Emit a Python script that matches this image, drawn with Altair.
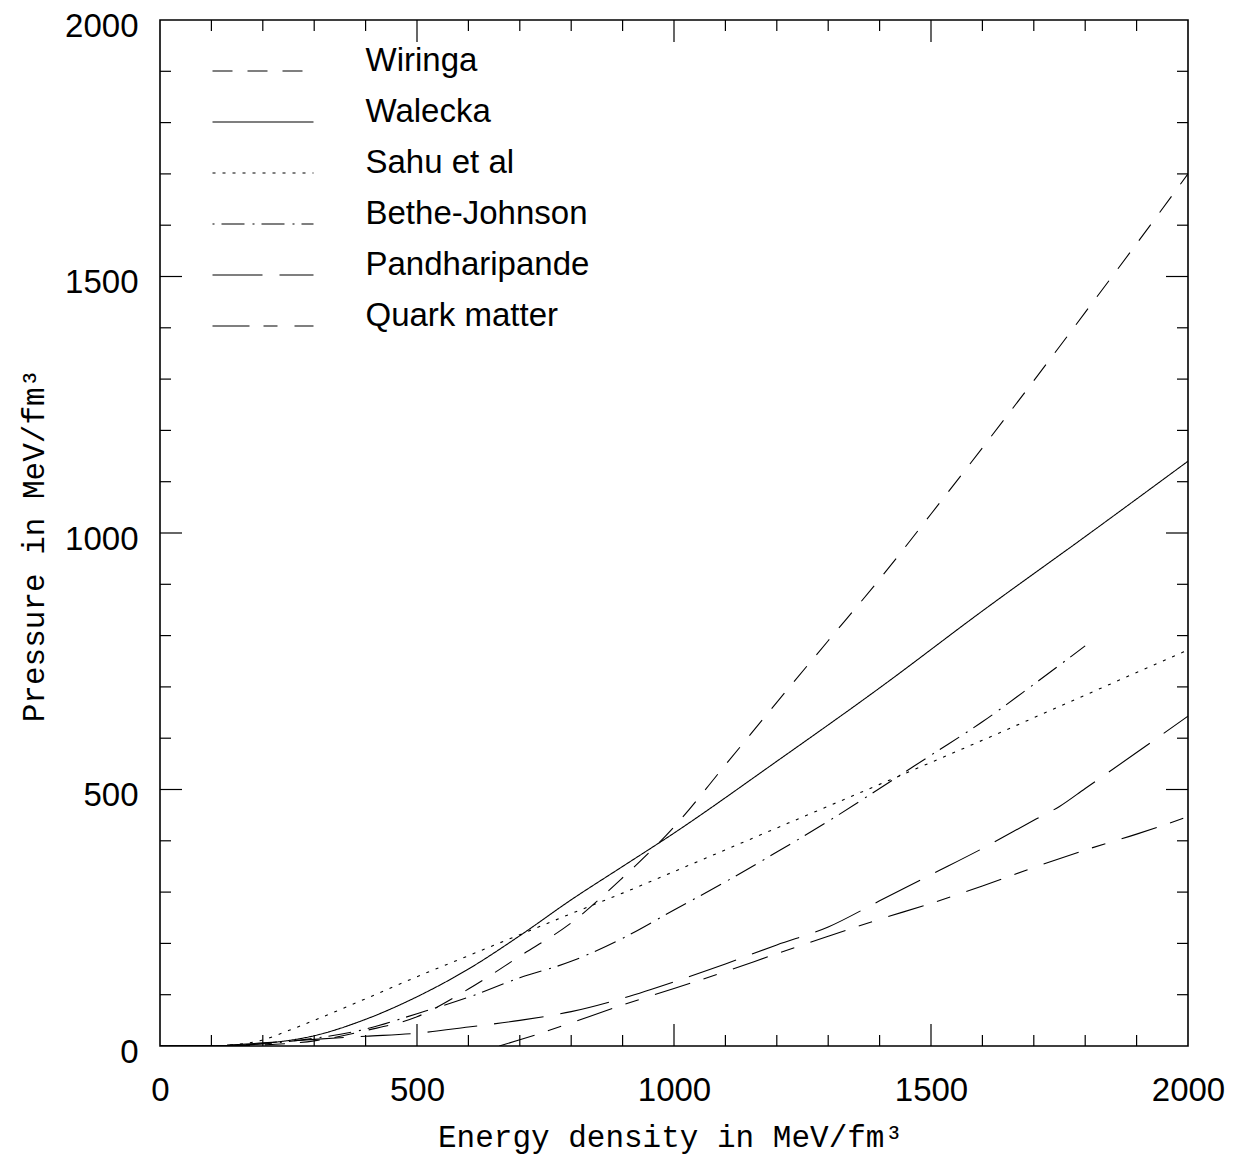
import altair as alt
import pandas as pd

# ---- data ----
series_order = ["Wiringa", "Walecka", "Sahu et al", "Bethe-Johnson", "Pandharipande", "Quark matter"]

wiringa_x = [0, 100, 200, 300, 400, 500, 600, 700, 800, 900, 1000, 1100, 1200, 1300, 1400, 1500, 1600, 1700, 1800, 1900, 2000]
wiringa_y = [0, 0, 2, 10, 30, 57, 111, 175, 240, 328, 427, 548, 670, 790, 910, 1037, 1166, 1297, 1430, 1564, 1700]

walecka_x = [0, 100, 200, 300, 400, 500, 600, 700, 800, 900, 1000, 1200, 1400, 1600, 1800, 2000]
walecka_y = [0, 0.5, 5, 20, 52, 96, 150, 215, 285, 350, 415, 555, 698, 848, 993, 1140]

sahu_x = [0, 100, 150, 200, 250, 300, 400, 500, 600, 700, 800, 900, 1000, 1200, 1400, 1600, 1800, 2000]
sahu_y = [0, 0.5, 3, 12, 30, 50, 92, 135, 176, 217, 258, 298, 340, 425, 510, 596, 684, 772]

bethe_x = [0, 100, 200, 300, 400, 500, 600, 700, 800, 900, 1000, 1100, 1200, 1300, 1400, 1500, 1600, 1700, 1800]
bethe_y = [0, 0, 4, 15, 33, 63, 95, 133, 165, 210, 265, 320, 378, 438, 502, 567, 632, 705, 780]

pandha_x = [0, 100, 200, 300, 400, 500, 600, 700, 800, 900, 1000, 1100, 1200, 1300, 1400, 1500, 1600, 1700, 1750, 1800, 1900, 2000]
pandha_y = [0, 1, 6, 13, 19, 25, 37, 50, 67, 93, 125, 160, 197, 232, 283, 334, 385, 440, 467, 502, 572, 643]

quark_x = [660, 700, 800, 900, 1000, 1100, 1200, 1300, 1400, 1500, 1600, 1700, 1800, 1900, 2000]
quark_y = [0, 12, 45, 80, 112, 145, 180, 214, 247, 278, 312, 348, 382, 413, 447]

axis_values = [0, 500, 1000, 1500, 2000]
minor_ticks = [100, 200, 300, 400, 600, 700, 800, 900, 1100, 1200, 1300, 1400, 1600, 1700, 1800, 1900]
major_ticks = [500, 1000, 1500]

# ---- build table ----
rows = []
for name, xs, ys in [
    ("Wiringa", wiringa_x, wiringa_y),
    ("Walecka", walecka_x, walecka_y),
    ("Sahu et al", sahu_x, sahu_y),
    ("Bethe-Johnson", bethe_x, bethe_y),
    ("Pandharipande", pandha_x, pandha_y),
    ("Quark matter", quark_x, quark_y),
]:
    for xv, yv in zip(xs, ys):
        rows.append({"series": name, "x": xv, "y": yv})
df = pd.DataFrame(rows)

W, H = 1028, 1026
SANS = "Liberation Sans"
MONO = "Liberation Mono"

xscale = alt.Scale(domain=[0, 2000], nice=False, zero=False)
yscale = alt.Scale(domain=[0, 2000], nice=False, zero=False)

xaxis = alt.Axis(
    title="Energy density in MeV/fm³", values=axis_values, ticks=False, domain=False, grid=False,
    labelFont=SANS, labelFontSize=33, labelColor="black", labelPadding=28, labelFlush=False,
    labelOverlap=False, format="d",
    titleFont=MONO, titleFontSize=31, titleFontWeight="normal", titleColor="black",
    titleY=100, titleX=510, titleBaseline="alphabetic", titleAlign="center",
)
yaxis = alt.Axis(
    title="Pressure in MeV/fm³", values=axis_values, ticks=False, domain=False, grid=False,
    labelFont=SANS, labelFontSize=33, labelColor="black", labelPadding=22, labelFlush=False,
    labelOverlap=False, labelOffset=6, format="d",
    titleFont=MONO, titleFontSize=31, titleFontWeight="normal", titleColor="black",
    titleAngle=270, titleX=-117, titleY=525, titleBaseline="alphabetic", titleAlign="center",
)

dash_range = [[20, 15], [1, 0], [3, 7], [2, 7, 23, 8], [50, 17], [37, 14, 14, 17]]

# legend sample: a horizontal stroke, 101 px long (path in unit coords, scaled by sqrt(size)/2)
SAMPLE_PATH = "M-4,0H4"
SAMPLE_SIZE = (101 / 4) ** 2

lines = alt.Chart(df).mark_line(color="black", strokeWidth=1.1, interpolate="monotone", clip=True).encode(
    x=alt.X("x:Q", scale=xscale, axis=xaxis),
    y=alt.Y("y:Q", scale=yscale, axis=yaxis),
    strokeDash=alt.StrokeDash(
        "series:N",
        scale=alt.Scale(domain=series_order, range=dash_range),
        sort=series_order,
        legend=alt.Legend(
            orient="none", legendX=52, legendY=34.5, title=None,
            symbolType=SAMPLE_PATH, symbolSize=SAMPLE_SIZE, symbolStrokeWidth=1.1,
            symbolStrokeColor="black", symbolFillColor="transparent",
            symbolOffset=34.5,
            labelFont=SANS, labelFontSize=33,
            labelColor="black", labelOffset=86, labelBaseline="alphabetic",
            rowPadding=17, padding=0, labelLimit=0,
        ),
    ),
    detail="series:N",
)

xt_minor = pd.DataFrame({"x": minor_ticks})
xt_major = pd.DataFrame({"x": major_ticks})
yt_minor = pd.DataFrame({"y": minor_ticks})
yt_major = pd.DataFrame({"y": major_ticks})

X = alt.X("x:Q", scale=xscale, axis=xaxis)
Y = alt.Y("y:Q", scale=yscale, axis=yaxis)
tick_style = dict(color="black", strokeWidth=1.2)
MINOR, MAJOR = 11, 22

layers = [lines]
for d, ln in [(xt_minor, MINOR), (xt_major, MAJOR)]:
    layers.append(alt.Chart(d).mark_rule(**tick_style).encode(x=X, y=alt.value(H), y2=alt.value(H - ln)))
    layers.append(alt.Chart(d).mark_rule(**tick_style).encode(x=X, y=alt.value(0), y2=alt.value(ln)))
for d, ln in [(yt_minor, MINOR), (yt_major, MAJOR)]:
    layers.append(alt.Chart(d).mark_rule(**tick_style).encode(y=Y, x=alt.value(0), x2=alt.value(ln)))
    layers.append(alt.Chart(d).mark_rule(**tick_style).encode(y=Y, x=alt.value(W), x2=alt.value(W - ln)))

chart = alt.layer(*layers).properties(
    width=W, height=H,
    padding={"left": 160, "top": 20, "right": 45, "bottom": 110},
    autosize=alt.AutoSizeParams(type="none"),
    background="white",
).configure_view(stroke="black", strokeWidth=1.6)

chart.save("out.html", embed_options={"renderer": "svg", "actions": False})
